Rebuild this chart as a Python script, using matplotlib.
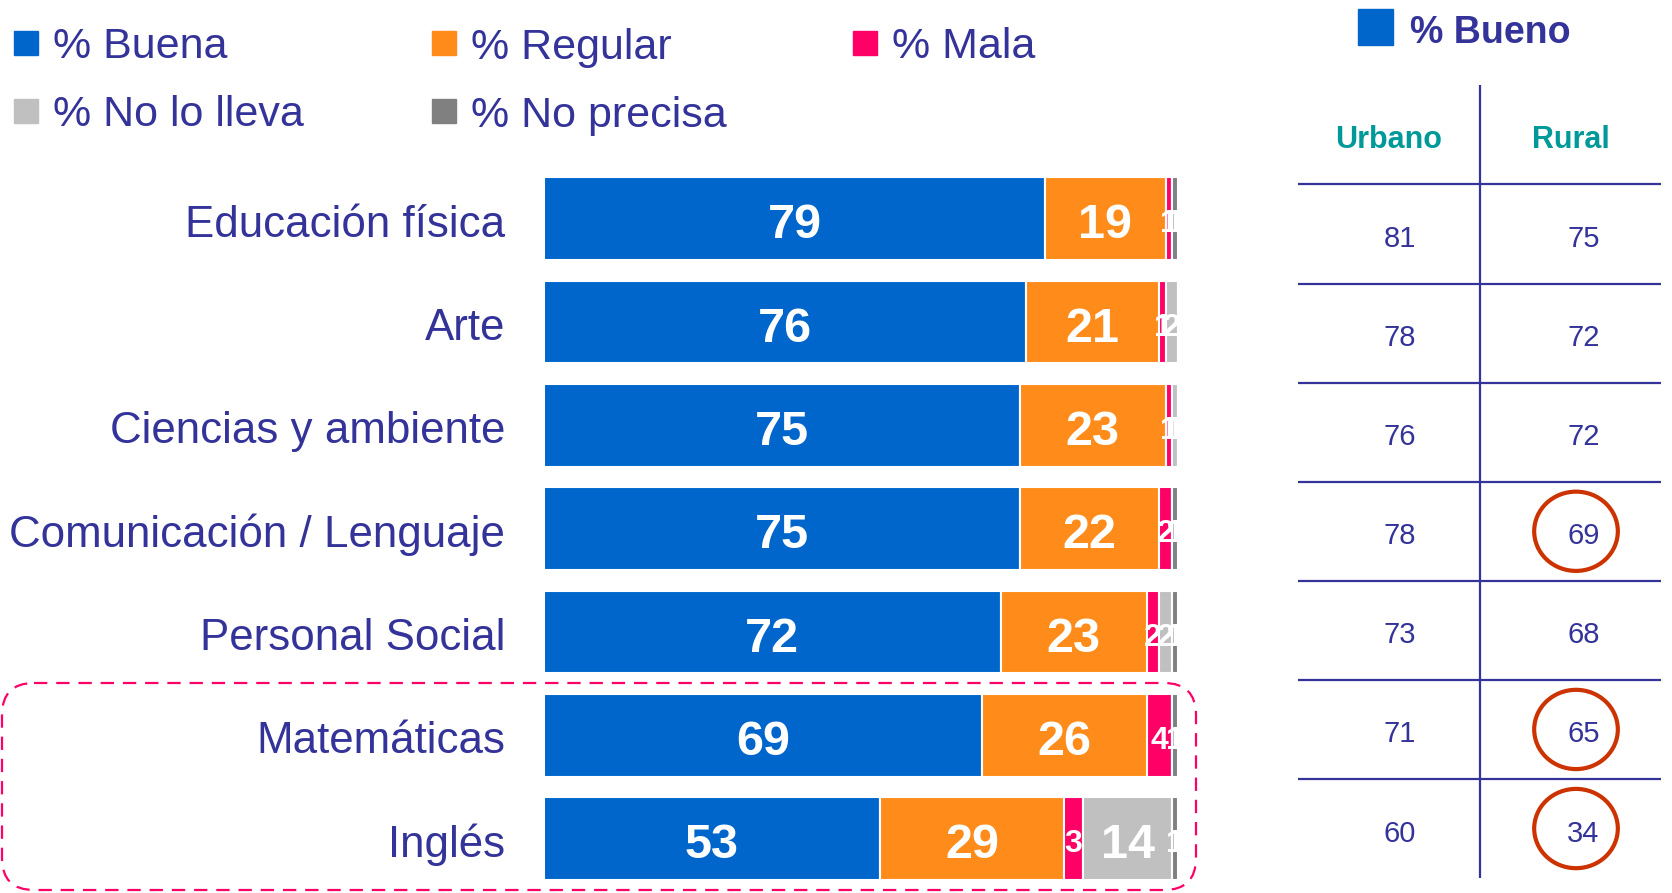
import numpy as np
import matplotlib
matplotlib.use('Agg')
import matplotlib.pyplot as plt
from matplotlib.patches import Rectangle, Ellipse, FancyBboxPatch

plt.rcParams['font.family'] = ['Liberation Sans', 'DejaVu Sans']

# Data
categories = ["Educación física", "Arte", "Ciencias y ambiente",
              "Comunicación / Lenguaje", "Personal Social", "Matemáticas", "Inglés"]
series_names = ["% Buena", "% Regular", "% Mala", "% No lo lleva", "% No precisa"]
buena = [79, 76, 75, 75, 72, 69, 53]
regular = [19, 21, 23, 22, 23, 26, 29]
mala = [1, 1, 1, 2, 2, 4, 3]
no_lleva = [0, 2, 1, 0, 2, 0, 14]
no_precisa = [1, 0, 0, 1, 1, 1, 1]
urbano = [81, 78, 76, 78, 73, 71, 60]
rural = [75, 72, 72, 69, 68, 65, 34]
circled_rural = [3, 5, 6]  # rows with a circle in the Rural column

colors = ['#0066CC', '#FF8C1A', '#FF0066', '#C0C0C0', '#808080']
navy = '#333399'
teal = '#009999'

W, H = 1672, 893
fig = plt.figure(figsize=(W / 100, H / 100), dpi=100)

# overlay axes in pixel units for legend / frame
ov = fig.add_axes([0, 0, 1, 1], zorder=0)
ov.set_xlim(0, W)
ov.set_ylim(H, 0)
ov.axis('off')

# ---- bars ----
ax = fig.add_axes([0.3253, 0.003, 0.3794, 0.810], zorder=2)
series = [buena, regular, mala, no_lleva, no_precisa]
y = np.arange(len(categories))
left = np.zeros(len(categories))
for vals, c in zip(series, colors):
    vals = np.array(vals, dtype=float)
    ax.barh(y, vals, left=left, height=0.8, color=c, edgecolor='white', linewidth=1.5)
    for yi, (l, v) in enumerate(zip(left, vals)):
        if v > 0:
            ax.text(l + v / 2, yi + 0.02, f"{int(v)}", ha='center', va='center_baseline',
                    color='white', fontweight='bold', fontsize=35 if v >= 10 else 23,
                    clip_on=True)
    left += vals
ax.set_xlim(0, 100)
ax.set_ylim(len(categories) - 0.5, -0.5)
ax.axis('off')
for yi, cat in enumerate(categories):
    ax.text(-6.1, yi + 0.02, cat, ha='right', va='center_baseline', color=navy,
            fontsize=31.6, clip_on=False)

# ---- legend ----
leg_pos = [(14, 43), (432, 43), (853, 43), (14, 111), (432, 111)]
for (lx, ly), name, c in zip(leg_pos, series_names, colors):
    ov.add_patch(Rectangle((lx, ly - 12), 24, 24, color=c))
    ov.text(lx + 39, ly, name, ha='left', va='center_baseline', color=navy, fontsize=31)

# % Bueno header
ov.add_patch(Rectangle((1358, 9), 35, 36, color=colors[0]))
ov.text(1410, 29, "% Bueno", ha='left', va='center_baseline', color=navy, fontsize=27,
        fontweight='bold')

# dashed frame around Matemáticas / Inglés
ov.add_patch(FancyBboxPatch((2, 683), 1194, 207, boxstyle="round,pad=0,rounding_size=32",
                            fill=False, edgecolor='#FF0066', linewidth=1.6, linestyle=(0, (6, 4))))

# ---- table ----
tb = fig.add_axes([0.7762, 0.0167, 0.2175, 0.8877], zorder=1)
tb.set_xlim(0, 2)
tb.set_ylim(len(categories) + 1, 0)
tb.axis('off')
tb.plot([1, 1], [0, len(categories) + 1], color=navy, lw=1.6)
for r in range(1, len(categories) + 1):
    tb.plot([0, 2], [r, r], color=navy, lw=1.6)
tb.text(0.5, 0.52, "Urbano", ha='center', va='center_baseline', color=teal, fontsize=22,
        fontweight='bold')
tb.text(1.5, 0.52, "Rural", ha='center', va='center_baseline', color=teal, fontsize=22,
        fontweight='bold')
for i, (u, r) in enumerate(zip(urbano, rural)):
    tb.text(0.56, i + 1.52, str(u), ha='center', va='center_baseline', color=navy, fontsize=21)
    tb.text(1.57, i + 1.52, str(r), ha='center', va='center_baseline', color=navy, fontsize=21)
for i in circled_rural:
    tb.add_patch(Ellipse((1.53, i + 1.5), 0.46, 0.8, fill=False, edgecolor='#CC3300', lw=3))

fig.savefig("out.png", dpi=100)
